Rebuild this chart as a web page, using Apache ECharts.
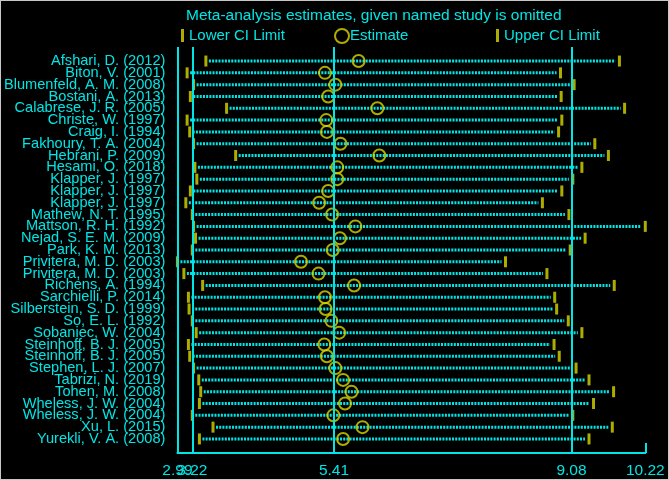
<!DOCTYPE html>
<html>
<head>
<meta charset="utf-8">
<script src="https://cdn.jsdelivr.net/npm/echarts@6/dist/echarts.min.js"></script>
<style>
  body { margin: 0; background: #fff; }
  #wrap { width: 667px; height: 478px; border: 1px solid #c8c8c8; background: #000; }
  #main { width: 667px; height: 478px; }
</style>
</head>
<body>
<div id="wrap"><div id="main"></div></div>
<script>
// studies, one row each (top to bottom)
const studies = [
  'Afshari, D. (2012)', 'Biton, V. (2001)', 'Blumenfeld, A. M. (2008)', 'Bostani, A. (2013)',
  'Calabrese, J. R. (2005)', 'Christe, W. (1997)', 'Craig, I. (1994)', 'Fakhoury, T. A. (2004)',
  'Hebrani, P. (2009)', 'Hesami, O. (2018)', 'Klapper, J. (1997)', 'Klapper, J. (1997)',
  'Klapper, J. (1997)', 'Mathew, N. T. (1995)', 'Mattson, R. H. (1992)', 'Nejad, S. E. M. (2009)',
  'Park, K. M. (2013)', 'Privitera, M. D. (2003)', 'Privitera, M. D. (2003)', 'Richens, A. (1994)',
  'Sarchielli, P. (2014)', 'Silberstein, S. D. (1999)', 'So, E. L. (1992)', 'Sobaniec, W. (2004)',
  'Steinhoff, B. J. (2005)', 'Steinhoff, B. J. (2005)', 'Stephen, L. J. (2007)', 'Tabrizi, N. (2019)',
  'Tohen, M. (2008)', 'Wheless, J. W. (2004)', 'Wheless, J. W. (2004)', 'Xu, L. (2015)',
  'Yurekli, V. A. (2008)'
]
const lowerCI = [3.43, 3.14, 3.24, 3.19, 3.75, 3.14, 3.18, 3.24, 3.89, 3.26, 3.29, 3.19, 3.12, 3.22, 3.24, 3.27,
  3.22, 2.99, 3.09, 3.38, 3.16, 3.17, 3.22, 3.28, 3.16, 3.18, 3.24, 3.32, 3.35, 3.33, 3.22, 3.54, 3.33]
const estimate = [5.79, 5.27, 5.43, 5.32, 6.08, 5.29, 5.30, 5.51, 6.11, 5.46, 5.46, 5.32, 5.18, 5.38, 5.74, 5.50,
  5.39, 4.90, 5.17, 5.72, 5.27, 5.28, 5.37, 5.49, 5.26, 5.30, 5.43, 5.55, 5.68, 5.58, 5.40, 5.85, 5.55]
const upperCI = [9.82, 8.91, 9.12, 8.92, 9.90, 8.93, 8.88, 9.44, 9.65, 9.24, 9.10, 8.93, 8.63, 9.04, 10.22, 9.29,
  9.06, 8.06, 8.70, 9.74, 8.82, 8.85, 9.03, 9.24, 8.81, 8.89, 9.15, 9.35, 9.73, 9.42, 9.10, 9.71, 9.35]
const xTicks = [2.99, 3.22, 5.41, 9.08, 10.22]
const refLines = [2.99, 3.22, 5.41, 9.08]

const CYAN = '#00e6e6'
const YELLOW = '#d8d800'
const FONT = 'Liberation Sans'

let myChart = echarts.init(document.getElementById('main'))
let rows = studies.map((s, i) => i)
// the labels are packed tighter than their height, so split them over two
// identical axes to stop echarts dropping the neighbours of the first/last one
let evenRows = rows.filter((i) => i % 2 === 0)
let oddRows = rows.filter((i) => i % 2 === 1)

function yAxisFor(values) {
  return {
    type: 'value',
    position: 'left',
    inverse: true,
    min: -1.19,
    max: 33.19,
    axisLine: { show: false },
    axisTick: { show: false },
    splitLine: { show: false },
    axisLabel: {
      customValues: values,
      showMinLabel: true,
      showMaxLabel: true,
      formatter: (v) => studies[Math.round(v)],
      color: CYAN, fontSize: 14.6, margin: 12, fontFamily: FONT,
    },
  }
}

function xAxisFor(labels, showLine) {
  return {
    type: 'value',
    position: 'bottom',
    min: xTicks[0],
    max: xTicks[xTicks.length - 1],
    axisLine: { show: showLine, onZero: false, lineStyle: { color: CYAN, width: 2 } },
    axisTick: {
      show: showLine,
      customValues: xTicks,
      inside: true, length: 10,
      lineStyle: { color: CYAN, width: 2 },
    },
    axisLabel: {
      customValues: labels,
      showMinLabel: true,
      showMaxLabel: true,
      formatter: (v) => v.toFixed(2),
      color: CYAN, fontSize: 15.5, margin: 10, fontFamily: FONT,
    },
    splitLine: { show: false },
  }
}

let option = {
  backgroundColor: '#000',
  animation: false,
  title: {
    text: 'Meta-analysis estimates, given named study is omitted',
    left: 180,
    top: 2,
    textStyle: { color: CYAN, fontSize: 15.5, fontWeight: 'normal', fontFamily: FONT },
  },
  legend: [
    {
      data: ['Lower CI Limit'],
      left: 175, top: 22,
      icon: 'rect', itemWidth: 3, itemHeight: 13,
      selectedMode: false,
      textStyle: { color: CYAN, fontSize: 15, fontFamily: FONT },
    },
    {
      data: ['Estimate'],
      left: 328, top: 22,
      icon: 'circle', itemWidth: 14, itemHeight: 14,
      itemStyle: { color: 'transparent', borderColor: YELLOW, borderWidth: 2 },
      selectedMode: false,
      textStyle: { color: CYAN, fontSize: 15, fontFamily: FONT, padding: [0, 0, 0, -4] },
    },
    {
      data: ['Upper CI Limit'],
      left: 490, top: 22,
      icon: 'rect', itemWidth: 3, itemHeight: 13,
      selectedMode: false,
      textStyle: { color: CYAN, fontSize: 15, fontFamily: FONT },
    },
  ],
  grid: { left: 176.3, right: 22.7, top: 46, bottom: 26 },
  xAxis: [
    xAxisFor(xTicks.slice(1), true),
    xAxisFor(xTicks.slice(0, 1), false),
  ],
  yAxis: [yAxisFor(evenRows), yAxisFor(oddRows)],
  series: [
    {
      name: 'CI',
      type: 'custom',
      silent: true,
      data: rows.map((i) => [lowerCI[i], upperCI[i], i]),
      renderItem: (params, api) => {
        let p1 = api.coord([api.value(0), api.value(2)])
        let p2 = api.coord([api.value(1), api.value(2)])
        return {
          type: 'line',
          shape: { x1: p1[0] + 3, y1: p1[1], x2: p2[0] - 4, y2: p2[1] },
          style: { stroke: CYAN, lineWidth: 3, lineDash: [2, 1.2] },
        }
      },
      markLine: {
        silent: true,
        symbol: 'none',
        label: { show: false },
        lineStyle: { color: CYAN, width: 2, type: 'solid' },
        data: refLines.map((v) => ({ xAxis: v })),
      },
    },
    {
      name: 'Lower CI Limit',
      type: 'scatter',
      symbol: 'rect',
      symbolSize: [3, 11],
      itemStyle: { color: YELLOW },
      data: rows.map((i) => [lowerCI[i], i]),
    },
    {
      name: 'Upper CI Limit',
      type: 'scatter',
      symbol: 'rect',
      symbolSize: [3, 11],
      itemStyle: { color: YELLOW },
      data: rows.map((i) => [upperCI[i], i]),
    },
    {
      name: 'Estimate',
      type: 'scatter',
      symbol: 'circle',
      symbolSize: 12,
      itemStyle: { color: 'transparent', borderColor: YELLOW, borderWidth: 2 },
      data: rows.map((i) => [estimate[i], i]),
    },
  ],
}

myChart.setOption(option)
</script>
</body>
</html>
